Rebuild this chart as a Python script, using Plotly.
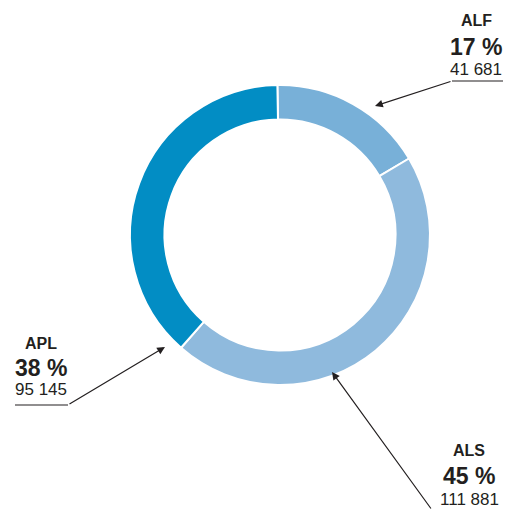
import plotly.graph_objects as go

labels = ["ALF", "ALS", "APL"]
values = [41681, 111881, 95145]
colors = ["#78b0d8", "#8fbadd", "#028dc4"]

W, H = 507, 510
total = sum(values)
pcts = [round(v / total * 100) for v in values]

def fmt(v):
    return f"{v:,}".replace(",", " ")

def px(x):
    return x / W

def py(y):
    return 1 - y / H

fig = go.Figure(go.Pie(
    labels=labels, values=values, sort=False, direction="clockwise", rotation=-1,
    hole=0.77, marker=dict(colors=colors, line=dict(color="white", width=2)),
    textinfo="none", hoverinfo="label+percent+value", showlegend=False,
    domain=dict(x=[px(130), px(430)], y=[py(386), py(84)]),
))

FONT = "Liberation Sans, Arial, Helvetica, sans-serif"
INK = "#231f20"

blocks = {
    "ALF": dict(cx=476, y1=21, y2=47, y3=70, ux0=452, ux1=503, uy=81, tip=(375, 106), tail=(452, 81)),
    "APL": dict(cx=41, y1=343, y2=368, y3=389, ux0=15, ux1=68, uy=405, tip=(165, 347), tail=(68, 405)),
    "ALS": dict(cx=469, y1=450, y2=476, y3=499, ux0=None, ux1=None, uy=None, tip=(332, 372), tail=(432, 512)),
}

annotations = []
shapes = []
for lab, pct, val in zip(labels, pcts, values):
    b = blocks[lab]
    common = dict(xref="paper", yref="paper", showarrow=False, xanchor="center", yanchor="middle")
    annotations.append(dict(x=px(b["cx"]), y=py(b["y1"]), text=f"<b>{lab}</b>",
                            font=dict(family=FONT, size=16, color=INK), **common))
    annotations.append(dict(x=px(b["cx"]), y=py(b["y2"]), text=f"<b>{pct} %</b>",
                            font=dict(family=FONT, size=23, color=INK), **common))
    annotations.append(dict(x=px(b["cx"]), y=py(b["y3"]), text=fmt(val),
                            font=dict(family=FONT, size=17, color=INK), **common))
    tx, ty = b["tip"]
    ax, ay = b["tail"]
    annotations.append(dict(x=px(tx), y=py(ty), xref="paper", yref="paper", text="",
                            showarrow=True, arrowhead=2, arrowsize=1.3, arrowwidth=1.2,
                            arrowcolor=INK, ax=ax - tx, ay=ay - ty, standoff=0))
    if b["ux0"] is not None:
        shapes.append(dict(type="line", xref="paper", yref="paper",
                           x0=px(b["ux0"]), x1=px(b["ux1"]), y0=py(b["uy"]), y1=py(b["uy"]),
                           line=dict(color=INK, width=1.2)))

fig.update_layout(
    width=W, height=H, margin=dict(l=0, r=0, t=0, b=0),
    paper_bgcolor="white", plot_bgcolor="white",
    annotations=annotations, shapes=shapes,
)

fig.write_html("out.html", config={"displayModeBar": False},
               post_script="document.body.style.margin='0px';")
